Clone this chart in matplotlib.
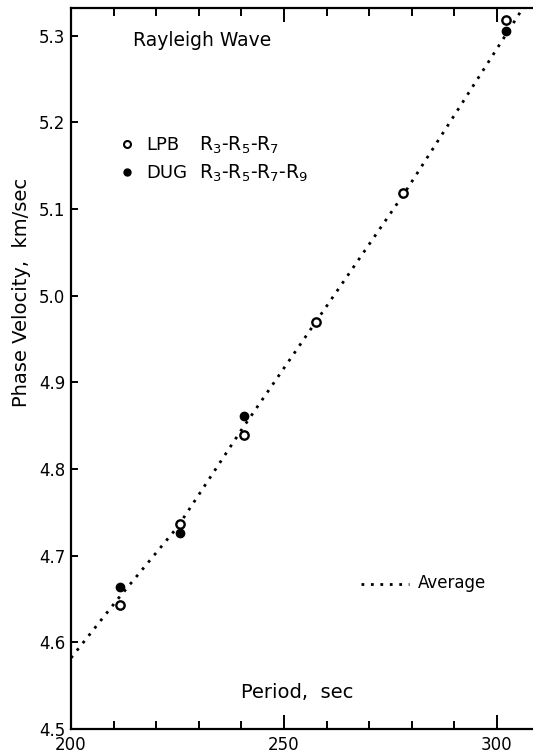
import matplotlib
matplotlib.use("Agg")
import matplotlib.pyplot as plt
from matplotlib.ticker import MultipleLocator

# Data
lpb_period = [211.5, 225.5, 240.5, 257.5, 278, 302]
lpb_velocity = [4.643, 4.737, 4.839, 4.970, 5.118, 5.318]
dug_period = [211.5, 225.5, 240.5, 302]
dug_velocity = [4.664, 4.726, 4.861, 5.305]
avg_period = [200, 211, 225, 240, 257.5, 278.5, 300, 310]
avg_velocity = [4.582, 4.650, 4.733, 4.845, 4.970, 5.120, 5.285, 5.362]

x_ticks = [200, 250, 300]
y_ticks = [4.5, 4.6, 4.7, 4.8, 4.9, 5.0, 5.1, 5.2, 5.3]

W, H = 533, 753
plt.rcParams['font.family'] = ['DejaVu Sans']
fig = plt.figure(figsize=(W / 100, H / 100), dpi=100)


def fx(px):
    return px / W


def fy(py):
    return 1 - py / H


left, right_px = 71, 71 + 110 * 4.26
bottom_px, top_px = 729, 8
ax = fig.add_axes([fx(left), fy(bottom_px), fx(right_px - left), (bottom_px - top_px) / H])
ax.set_xlim(200, 310)
ax.set_ylim(4.5, 4.5 + (bottom_px - top_px) / 866.7)

dot = (0, (1.0, 2.4))
ax.plot(avg_period, avg_velocity, color='black', lw=2.0, linestyle=dot)
ax.plot(lpb_period, lpb_velocity, linestyle='none', marker='o', markersize=6,
        markerfacecolor='white', markeredgecolor='black', markeredgewidth=1.7, zorder=3)
ax.plot(dug_period, dug_velocity, linestyle='none', marker='o', markersize=6,
        markerfacecolor='black', markeredgecolor='black', zorder=4)

for s in ax.spines.values():
    s.set_linewidth(1.6)

ax.set_xticks(x_ticks)
ax.set_xticklabels([str(v) for v in x_ticks])
ax.xaxis.set_minor_locator(MultipleLocator(10))
ax.set_yticks(y_ticks)
ax.set_yticklabels(['%.1f' % v for v in y_ticks])
ax.tick_params(axis='x', which='major', direction='in', length=10, width=1.4,
               top=True, labelsize=12, pad=5)
ax.tick_params(axis='x', which='minor', direction='in', length=5.5, width=1.4, top=True)
ax.tick_params(axis='y', which='major', direction='in', length=5, width=1.4,
               right=True, labelsize=12, pad=4)

# Axis titles and annotation
fig.text(fx(22), fy(407), 'Phase Velocity,  km/sec', rotation=90, ha='center',
         va='bottom', fontsize=14)
fig.text(fx(241), fy(692), 'Period,  sec', ha='left', va='center', fontsize=14)
fig.text(fx(133), fy(40), 'Rayleigh Wave', ha='left', va='center', fontsize=13.5)

# Legend (manual)
ax.plot([fx(127)], [fy(144)], transform=fig.transFigure, marker='o', markersize=5,
        markerfacecolor='white', markeredgecolor='black', markeredgewidth=1.5,
        linestyle='none', clip_on=False)
ax.plot([fx(127)], [fy(172)], transform=fig.transFigure, marker='o', markersize=5,
        markerfacecolor='black', markeredgecolor='black', linestyle='none', clip_on=False)
fig.text(fx(146), fy(145), 'LPB', ha='left', va='center', fontsize=13)
fig.text(fx(199), fy(145), r'R$_3$-R$_5$-R$_7$', ha='left', va='center', fontsize=13.5)
fig.text(fx(146), fy(173), 'DUG', ha='left', va='center', fontsize=13)
fig.text(fx(199), fy(173), r'R$_3$-R$_5$-R$_7$-R$_9$', ha='left', va='center', fontsize=13.5)

ax.plot([fx(361), fx(409)], [fy(584), fy(584)], transform=fig.transFigure,
        color='black', lw=2.0, linestyle=dot, clip_on=False)
fig.text(fx(418), fy(583), 'Average', ha='left', va='center', fontsize=12)

fig.savefig('out.png', dpi=100)
